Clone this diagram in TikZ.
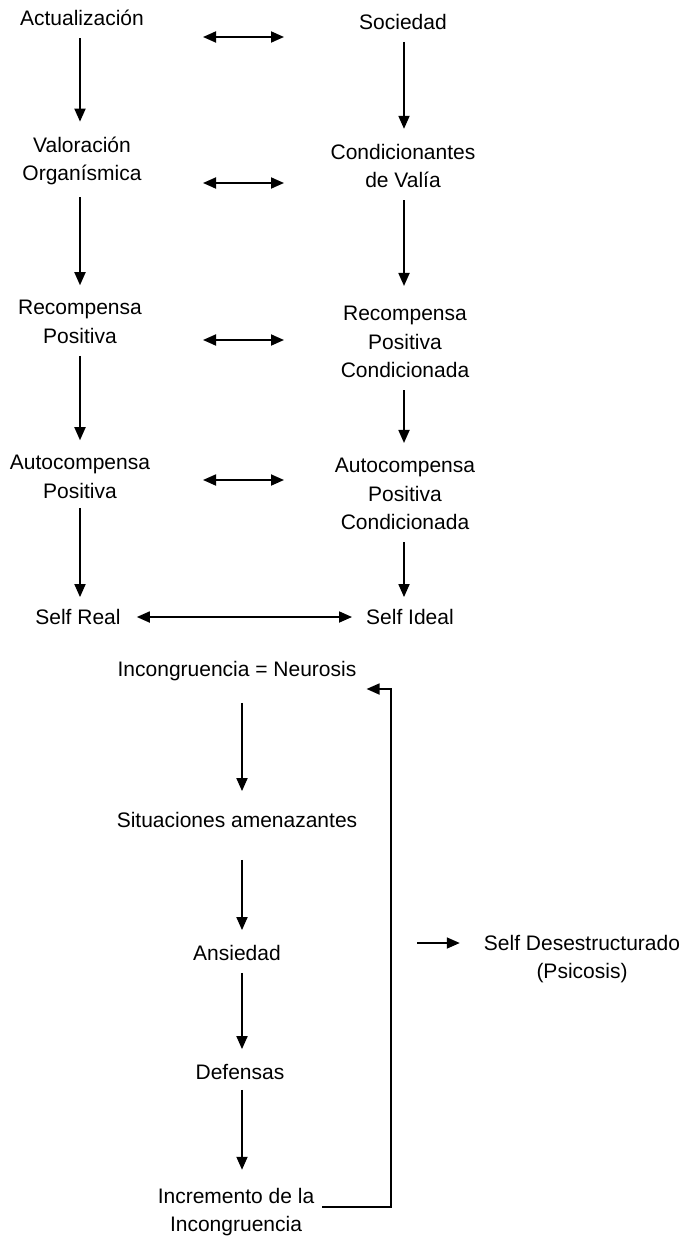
\documentclass[tikz,border=0pt]{standalone}
\usepackage{fontspec}
\setmainfont{Liberation Sans}
\usetikzlibrary{calc, positioning, arrows.meta}

\begin{document}
\begin{tikzpicture}[x=1pt, y=-1pt,
  txt/.style={inner sep=0pt, align=center, font={\fontsize{21}{28.5}\selectfont}},
  arr/.style={-{Triangle[length=13pt,width=11pt]}, line width=1.8pt, shorten <=12pt, shorten >=15pt},
  dbl/.style={{Triangle[length=13pt,width=11pt]}-{Triangle[length=13pt,width=11pt]}, line width=1.8pt}
]
\useasboundingbox (0,0) rectangle (682,1236);
\node (act) [txt] at (82,18) {Actualización};
\node (soc) [txt] at (403,22) {Sociedad};
\node (val) [txt] at (82,161) {Valoración\\Organísmica};
\node (cond) [txt] at (403,166) {Condicionantes\\de Valía};
\node (rec) [txt] at (80,322) {Recompensa\\Positiva};
\node (rpc) [txt] at (405,342) {Recompensa\\Positiva\\Condicionada};
\node (auto) [txt] at (80,477) {Autocompensa\\Positiva};
\node (apc) [txt] at (405,494) {Autocompensa\\Positiva\\Condicionada};
\node (sreal) [txt] at (78,617) {Self Real};
\node (sideal) [txt] at (410,617) {Self Ideal};
\node (incon) [txt] at (237,671) {Incongruencia = Neurosis};
\node (sit) [txt] at (237,820) {Situaciones amenazantes};
\node (ans) [txt] at (237,953) {Ansiedad};
\node (def) [txt] at (240,1072) {Defensas};
\node (incr) [txt] at (236,1212) {Incremento de la\\Incongruencia};
\node (psic) [txt] at (582,959) {Self Desestructurado\\(Psicosis)};
\coordinate (dl1) at (203,37);  \coordinate (dr1) at (284,37);
\coordinate (dl2) at (203,183); \coordinate (dr2) at (284,183);
\coordinate (dl3) at (203,340); \coordinate (dr3) at (284,340);
\coordinate (dl4) at (203,480); \coordinate (dr4) at (284,480);
\coordinate (fbtop) at (391,689);
\coordinate (psin) at (417,943);
\coordinate (colL) at (80,0);
\coordinate (colR) at (404,0);
\coordinate (colM) at (242,0);
\draw[dbl] (dl1)--(dr1); \draw[dbl] (dl2)--(dr2); \draw[dbl] (dl3)--(dr3); \draw[dbl] (dl4)--(dr4);
\draw[arr] (colL |- act.south)--(colL |- val.north); \draw[arr] (colL |- val.south)--(colL |- rec.north);
\draw[arr] (colL |- rec.south)--(colL |- auto.north);
\draw[arr, shorten <=9pt, shorten >=12pt] (colL |- auto.south)--(colL |- sreal.north);
\draw[arr] (colR |- soc.south)--(colR |- cond.north); \draw[arr, shorten >=20pt] (colR |- cond.south)--(colR |- rpc.north);
\draw[arr] (colR |- rpc.south)--(colR |- apc.north);
\draw[arr, shorten >=12pt] (colR |- apc.south)--(colR |- sideal.north);
\draw[dbl, shorten <=16pt, shorten >=14pt] (sreal)--(sideal);
\draw[arr, shorten <=22pt, shorten >=21pt] (colM |- incon.south)--(colM |- sit.north);
\draw[arr, shorten <=32pt] (colM |- sit.south)--(colM |- ans.north);
\draw[arr] (colM |- ans.south)--(colM |- def.north);
\draw[arr, shorten <=10pt, shorten >=18pt] (colM |- def.south)--(colM |- incr.north);
\draw[arr, shorten <=8pt, shorten >=10pt] ([yshift=5pt]incr.east) -| (fbtop) -- (fbtop -| incon.east);
\draw[arr, shorten <=0pt, shorten >=24pt] (psin)--(psin -| psic.west);
\end{tikzpicture}
\end{document}
